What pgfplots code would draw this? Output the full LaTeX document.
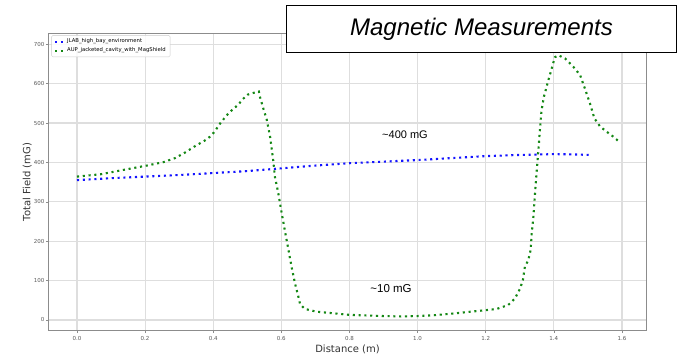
\documentclass[border=0pt]{standalone}
\usepackage{pgfplots}
\pgfplotsset{compat=1.18}
\usepackage{fontspec}
\setmainfont{DejaVu Sans}
\newfontfamily\arialfont{Liberation Sans}
\definecolor{mgreen}{RGB}{20,135,20}
\definecolor{mblue}{RGB}{20,20,255}
\definecolor{gridc}{RGB}{222,222,222}
\definecolor{framec}{RGB}{140,140,140}
\begin{document}
\begin{tikzpicture}[x=1pt,y=1pt]
\path[use as bounding box] (0,0) rectangle (678,354);
\begin{axis}[
  at={(49pt,24pt)}, anchor=south west,
  scale only axis, width=597pt, height=296pt,
  xmin=-0.0822, xmax=1.6706, ymin=-25.4, ymax=726,
  xtick={0,0.2,...,1.6}, ytick={0,100,...,700},
  xticklabel style={/pgf/number format/.cd,fixed,fixed zerofill,precision=1},
  yticklabel style={xshift=2pt},
  /pgf/number format/assume math mode=true,
  ticklabel style={font=\fontsize{5.5}{6}\selectfont, text=black!65},
  tick style={framec, line width=0.6pt},
  tick align=outside, major tick length=3pt,
  xtick pos=bottom, ytick pos=left,
  grid=major, major grid style={gridc, line width=1.2pt},
  axis line style={framec, line width=1pt},
  xlabel={Distance (m)}, ylabel={Total Field (mG)},
  label style={font=\fontsize{10}{12}\selectfont, text=black!80},
  xlabel style={yshift=3pt},
  ylabel style={yshift=-4.5pt},
  legend style={at={(0.004,0.996)}, anchor=north west, font=\fontsize{5.3}{6.5}\selectfont,
    draw=black!20, rounded corners=1.5pt, fill=white, fill opacity=0.85, text opacity=1,
    inner xsep=2.5pt, inner ysep=1.5pt, row sep=-0.5pt},
  legend cell align=left,
  legend image code/.code={\draw[#1] (0pt,0pt) -- (9pt,0pt);},
  dotline/.style={line width=2.1pt, dash pattern=on 2.1pt off 3.7pt},
]
\addplot[mblue, dotline] coordinates {
(0.00,355) (0.10,360) (0.20,364) (0.30,368) (0.40,373) (0.50,378) (0.60,385)
(0.70,392) (0.80,398) (0.90,402) (1.00,406) (1.10,411) (1.20,416) (1.30,419)
(1.40,421) (1.45,420.5) (1.506,419)
};
\addlegendentry{JLAB\_high\_bay\_environment}
\addplot[mgreen, dotline] coordinates {
(0.000,364) (0.070,370) (0.136,381) (0.205,392) (0.255,401) (0.288,411)
(0.317,425) (0.346,441) (0.376,456) (0.390,465) (0.402,476) (0.422,501)
(0.446,526) (0.474,547) (0.486,560) (0.501,572) (0.516,576) (0.534,580)
(0.537,567) (0.547,537) (0.557,509) (0.567,465) (0.576,406) (0.581,364)
(0.591,322) (0.601,271) (0.611,224) (0.620,182) (0.630,135) (0.640,93)
(0.650,59) (0.655,40) (0.669,28) (0.704,21) (0.753,17) (0.800,13)
(0.900,10) (0.950,9) (1.000,10) (1.046,12) (1.100,16) (1.144,20)
(1.200,25) (1.232,28) (1.266,38) (1.286,55) (1.301,80) (1.309,101)
(1.315,135) (1.325,152) (1.332,178) (1.335,220) (1.340,262) (1.343,300)
(1.348,360) (1.354,423) (1.359,482) (1.364,533) (1.371,567) (1.384,609)
(1.394,639) (1.403,667) (1.413,672) (1.433,664) (1.457,643) (1.477,622)
(1.491,588) (1.506,550) (1.519,512) (1.536,491) (1.555,478) (1.575,465)
(1.591,453)
};
\addlegendentry{AUP\_jacketed\_cavity\_with\_MagShield}
\node[font=\arialfont\fontsize{11}{13}\selectfont] at (axis cs:0.963,470) {\textasciitilde400 mG};
\node[font=\arialfont\fontsize{11.5}{13}\selectfont] at (axis cs:0.922,79) {\textasciitilde10 mG};
\end{axis}
\node[draw=black, line width=1.3pt, fill=white, minimum width=390pt, minimum height=47pt, inner sep=0pt,
  font=\arialfont\itshape\fontsize{24}{28}\selectfont] at (481.5,325) {Magnetic Measurements};
\end{tikzpicture}
\end{document}
